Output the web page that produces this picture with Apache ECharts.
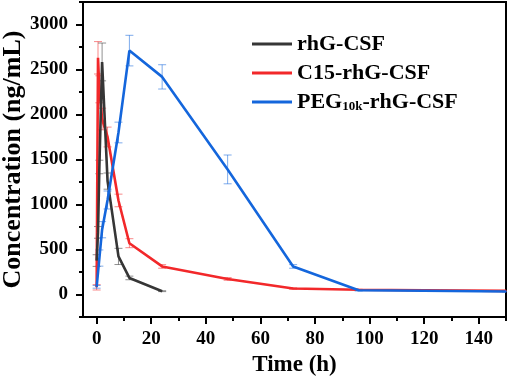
<!DOCTYPE html>
<html>
<head>
<meta charset="utf-8">
<script src="https://cdn.jsdelivr.net/npm/echarts@6/dist/echarts.min.js"></script>
<style>
html, body { margin: 0; padding: 0; background: #fff; }
#container { width: 507px; height: 376px; }
</style>
</head>
<body>
<div id="container"></div>
<script>
// data
var xTicks = [0, 20, 40, 60, 80, 100, 120, 140];
var xMinorTicks = [10, 30, 50, 70, 90, 110, 130, 150];
var yTicks = [0, 500, 1000, 1500, 2000, 2500, 3000];
var yMinorTicks = [-250, 250, 750, 1250, 1750, 2250, 2750, 3250];

var rhgTime = [0, 0.5, 1, 2, 4, 8, 12, 24];
var rhgConc = [377, 690, 1417, 2584, 1260, 423, 184, 37];
var rhgErr = [65, 65, 75, 210, 90, 90, 20, 5];

var c15Time = [0, 0.5, 1, 2, 4, 8, 12, 24, 48, 72, 96, 120, 150];
var c15Conc = [80, 2630, 2280, 1950, 1750, 1045, 570, 312, 173, 66, 52, 47, 40];
var c15Err = [30, 180, 150, 120, 110, 70, 50, 20, 15, 8, 6, 8, 5];

var pegTime = [0, 1, 2, 4, 8, 12, 24, 48, 72, 96, 120, 150];
var pegConc = [85, 405, 720, 1050, 1800, 2710, 2418, 1390, 312, 47, 42, 33];
var pegErr = [15, 90, 90, 100, 115, 170, 135, 160, 20, 8, 6, 4];

var names = ['rhG-CSF', 'C15-rhG-CSF', 'PEG10k-rhG-CSF'];
var colors = ['#363636', '#f2282a', '#1466dc'];

var font = '"Liberation Serif", "Times New Roman", serif';

function pairs(t, v) {
    return t.map(function (x, i) { return [x, v[i]]; });
}
function errData(t, v, e) {
    return t.map(function (x, i) { return [x, v[i] - e[i], v[i] + e[i]]; });
}
function errSeries(t, v, e, color, z) {
    return {
        type: 'custom',
        silent: true,
        z: z,
        data: errData(t, v, e),
        renderItem: function (params, api) {
            var lo = api.coord([api.value(0), api.value(1)]);
            var hi = api.coord([api.value(0), api.value(2)]);
            var w = 4;
            var st = { stroke: color, lineWidth: 1, opacity: 0.55 };
            return {
                type: 'group',
                children: [
                    { type: 'line', shape: { x1: lo[0], y1: lo[1], x2: hi[0], y2: hi[1] }, style: st },
                    { type: 'line', shape: { x1: lo[0] - w, y1: lo[1], x2: lo[0] + w, y2: lo[1] }, style: st },
                    { type: 'line', shape: { x1: hi[0] - w, y1: hi[1], x2: hi[0] + w, y2: hi[1] }, style: st }
                ]
            };
        }
    };
}
function lineSeries(name, t, v, color, z) {
    return {
        name: name,
        type: 'line',
        z: z,
        data: pairs(t, v),
        symbol: 'none',
        lineStyle: { color: color, width: 2.6 },
        itemStyle: { color: color }
    };
}

var dom = document.getElementById('container');
var myChart = echarts.init(dom);

var option = {
    animation: false,
    grid: {
        left: 83, right: 1, top: 2, bottom: 59,
        containLabel: false,
        outerBoundsMode: 'none',
        show: true, borderColor: '#000', borderWidth: 2
    },
    legend: {
        orient: 'vertical',
        left: 247,
        top: 28,
        itemGap: 7,
        itemWidth: 40,
        itemHeight: 3,
        icon: 'rect',
        data: names,
        formatter: function (n) {
            if (n === 'PEG10k-rhG-CSF') return 'PEG{sub|10k}-rhG-CSF';
            return n;
        },
        textStyle: {
            fontFamily: font, fontWeight: 'bold', fontSize: 22, color: '#000',
            rich: {
                sub: { fontFamily: font, fontWeight: 'bold', fontSize: 13, color: '#000', verticalAlign: 'bottom', padding: [10, 0, 0, 0] }
            }
        }
    },
    xAxis: [
        {
            type: 'value', min: -5, max: 150,
            name: 'Time (h)', nameLocation: 'middle', nameGap: 37, nameMoveOverlap: false,
            nameTextStyle: { fontFamily: font, fontWeight: 'bold', fontSize: 23, color: '#000' },
            axisLine: { show: true, onZero: false, lineStyle: { color: '#000', width: 2 } },
            axisTick: { show: true, customValues: xTicks, length: 7, lineStyle: { color: '#000', width: 2 } },
            axisLabel: { customValues: xTicks, fontFamily: font, fontWeight: 'bold', fontSize: 19, color: '#000', margin: 13 },
            splitLine: { show: false }
        },
        {
            type: 'value', min: -5, max: 150, position: 'bottom',
            axisLine: { show: false, onZero: false },
            axisTick: { show: true, customValues: xMinorTicks, length: 4, lineStyle: { color: '#000', width: 2 } },
            axisLabel: { show: false },
            splitLine: { show: false }
        }
    ],
    yAxis: [
        {
            type: 'value', min: -250, max: 3250,
            name: 'Concentration (ng/mL)', nameLocation: 'middle', nameGap: 57, nameMoveOverlap: false,
            nameTextStyle: { fontFamily: font, fontWeight: 'bold', fontSize: 26, color: '#000' },
            axisLine: { show: true, onZero: false, lineStyle: { color: '#000', width: 2 } },
            axisTick: { show: true, customValues: yTicks, length: 7, lineStyle: { color: '#000', width: 2 } },
            axisLabel: {
                customValues: yTicks, fontFamily: font, fontWeight: 'bold', fontSize: 19, color: '#000', margin: 15,
                formatter: function (v) { return String(v); }
            },
            splitLine: { show: false }
        },
        {
            type: 'value', min: -250, max: 3250, position: 'left',
            axisLine: { show: false, onZero: false },
            axisTick: { show: true, customValues: yMinorTicks, length: 4, lineStyle: { color: '#000', width: 2 } },
            axisLabel: { show: false },
            splitLine: { show: false }
        }
    ],
    series: [
        errSeries(c15Time, c15Conc, c15Err, colors[1], 2),
        errSeries(rhgTime, rhgConc, rhgErr, colors[0], 2),
        errSeries(pegTime, pegConc, pegErr, colors[2], 2),
        lineSeries(names[1], c15Time, c15Conc, colors[1], 3),
        lineSeries(names[0], rhgTime, rhgConc, colors[0], 4),
        lineSeries(names[2], pegTime, pegConc, colors[2], 5)
    ]
};

window.onresize = function () {
    myChart.resize();
};
myChart.setOption(option, true);
</script>
</body>
</html>
